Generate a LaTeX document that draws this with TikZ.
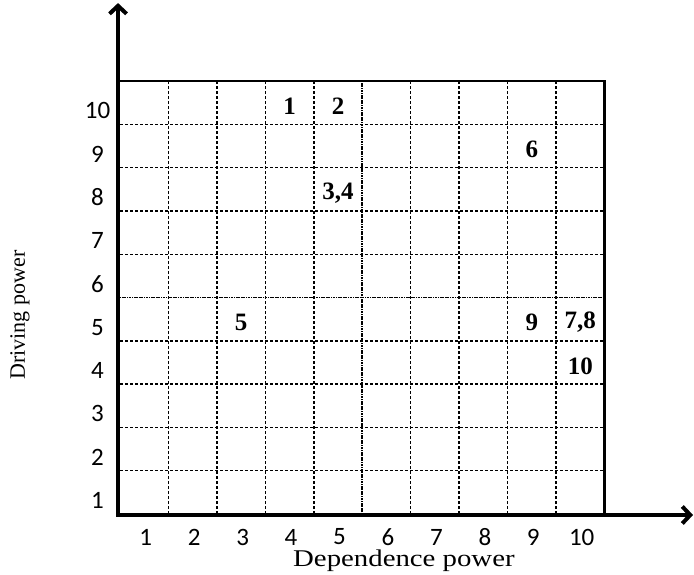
\documentclass[tikz,border=0pt]{standalone}
\usepackage{fontspec}
\setmainfont{Liberation Serif}
\newfontfamily\tickfont{Carlito}
\usepackage{tikz}
\usetikzlibrary{arrows.meta}

\begin{document}
\begin{tikzpicture}[x=48.45pt, y=43.3pt,
    axis/.style={line width=4pt, line join=miter},
    gridline/.style={black, line width=1.4pt, dash pattern=on 3pt off 2pt},
    midline/.style={black, line width=1.8pt, dash pattern=on 1.2pt off 0.5pt},
    tick/.style={font=\tickfont\fontsize{25}{30}\selectfont, inner sep=0pt},
    cell/.style={font=\bfseries\fontsize{25}{30}\selectfont, inner sep=0pt}]
    \useasboundingbox (-2.477,-1.386) rectangle (11.847,11.871);
    % grid
    \foreach \i in {1,2,3,4,6,7,8,9} {
        \draw[gridline] (\i,0) -- (\i,10);
        \draw[gridline] (0,\i) -- (10,\i);
    }
    \draw[midline] (5,0) -- (5,10);
    \draw[midline] (0,5) -- (10.02,5);
    \draw[line width=2.2pt] (0,10) -- (10,10) -- (10,0);
    % axes
    \coordinate (O) at (-0.041,-0.023);
    \coordinate (ytip) at (-0.041,11.80);
    \coordinate (xtip) at (11.827,-0.023);
    \draw[axis, {Straight Barb[length=8pt,width=17pt]}-{Straight Barb[length=8pt,width=17pt]}] (ytip) -- (O) -- (xtip);
    % tick labels
    \foreach \k in {1,...,10} {
        \node[tick] (x\k) at (\k-0.47,-0.531) {\k};
        \node[tick] (y\k) at (-0.464,\k-0.685) {\k};
    }
    \node[anchor=base, inner sep=0pt] (dep) at (5.86,-1.22)
        {\scalebox{1.2}[1]{\fontsize{24}{28}\selectfont Dependence power}};
    \node[rotate=90, font=\fontsize{22}{26}\selectfont] (drv) at (-2.064,4.596) {Driving power};
    % elements
    \foreach \lbl/\c/\r/\nm in {1/4/10/e1, 2/5/10/e2, {3,4}/5/8/e34, 6/9/9/e6,
                                5/3/5/e5, 9/9/5/e9, {7,8}/10/5/e78, 10/10/4/e10}
        \node[cell] (\nm) at (\c-0.5,\r-0.58) {\lbl};
\end{tikzpicture}
\end{document}
